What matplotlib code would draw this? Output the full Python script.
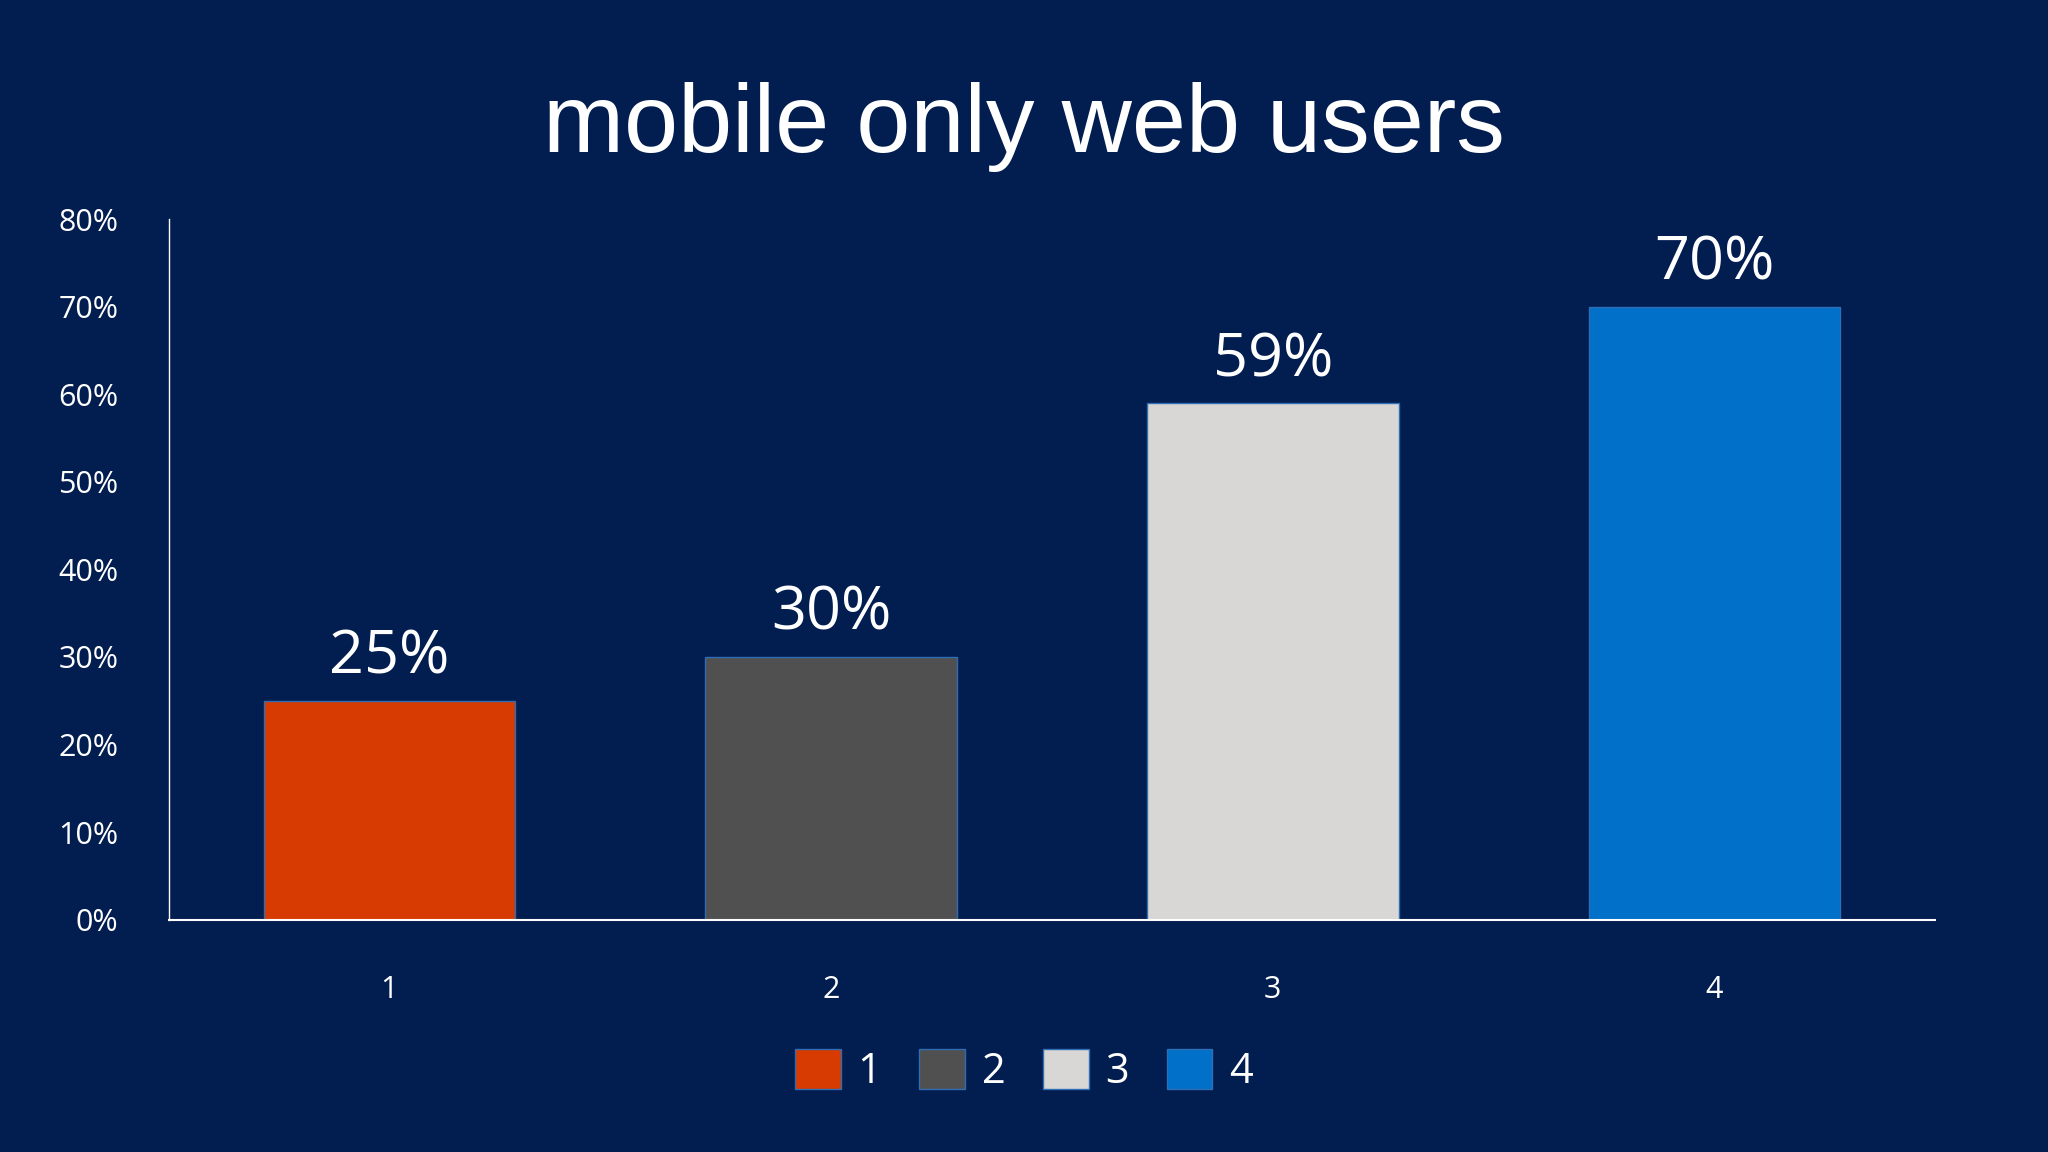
import matplotlib
matplotlib.use('Agg')
import matplotlib.pyplot as plt
import matplotlib.patches as patches

categories = ['1', '2', '3', '4']
values = [25, 30, 59, 70]
colors = ['#D83B01', '#505050', '#D8D7D5', '#0070C8']
bg = '#021D4F'

fig = plt.figure(figsize=(20.48, 11.52), dpi=100, facecolor=bg)
ax = fig.add_axes([0.0823, 0.2018, 0.8627, 0.6077], facecolor=bg)

x = range(len(categories))
ax.bar(x, values, width=0.57, color=colors, edgecolor='#2F6EB5', linewidth=1)
for xi, v in zip(x, values):
    ax.text(xi, v + 1.5, '%d%%' % v, ha='center', va='bottom', color='white',
            fontsize=44, family='Open Sans')

ax.set_xlim(-0.5, 3.5)
ax.set_ylim(0, 80)
ax.set_yticks(range(0, 81, 10))
ax.set_yticklabels(['%d%%' % t for t in range(0, 81, 10)])
ax.set_xticks(list(x))
ax.set_xticklabels(categories)
for lab in ax.get_xticklabels() + ax.get_yticklabels():
    lab.set_family('Open Sans')
    lab.set_fontsize(22)
    lab.set_color('white')
ax.tick_params(length=0)
ax.tick_params(axis='x', pad=40)
ax.tick_params(axis='y', pad=36)
for s in ['top', 'right']:
    ax.spines[s].set_visible(False)
ax.spines['left'].set_color('white')
ax.spines['bottom'].set_color('white')
ax.spines['left'].set_linewidth(1)
ax.spines['bottom'].set_linewidth(1.5)

fig.text(0.5, 0.89, 'mobile only web users', ha='center', va='center',
         color='white', fontsize=70, family='Liberation Sans')

handles = [patches.Patch(facecolor=c, edgecolor='#2F6EB5') for c in colors]
leg = fig.legend(handles, categories, loc='center', bbox_to_anchor=(0.5, 0.07),
                 ncol=4, frameon=False, handlelength=1.1, handleheight=1.1,
                 handletextpad=0.4, columnspacing=0.9,
                 prop={'family': 'Open Sans', 'size': 30})
for t in leg.get_texts():
    t.set_color('white')

fig.savefig('out.png', dpi=100, facecolor=bg)
